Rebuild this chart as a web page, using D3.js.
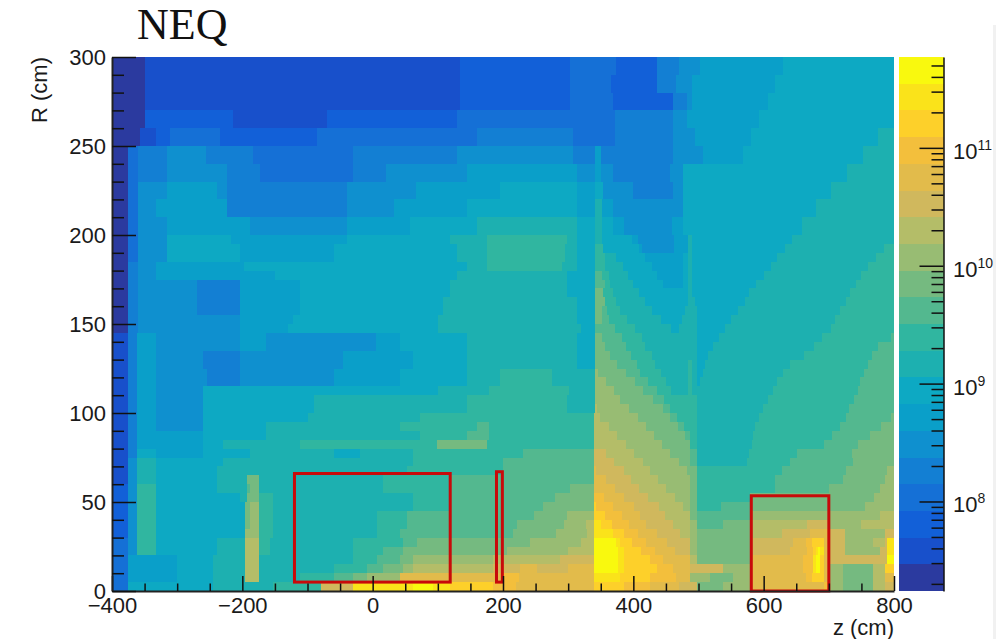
<!DOCTYPE html>
<html>
<head>
<meta charset="utf-8">
<title>NEQ</title>
<script src="https://cdn.jsdelivr.net/npm/d3@7"></script>
<style>
  body { margin: 0; background: #fff; }
  text { font-family: "Liberation Sans", Arial, sans-serif; fill: #1a1a1a; }
</style>
</head>
<body>
<div id="chart"></div>
<script>
// Contour levels of the colour bar, bottom to top
const bandColors = ["#2b3a9f", "#1850cb", "#1260d8", "#1570d6", "#137fd3", "#0f90cf", "#0a9fc9", "#0da9c3",
    "#1db0b0", "#30b6a0", "#53b88f", "#75ba80", "#98bc73", "#b4bd68", "#d0b85d", "#e2bb4b",
    "#f3bf3c", "#fdd02a", "#fae31a", "#f9f90e"];
const fluxMin = 1.74e7;
const fluxMax = 5.9e11;

// Upper and lower R edge of each row of fluxRows
const rEdges = [300, 290, 280, 270, 260, 250, 240, 230, 220, 210, 200,
    195, 190, 185, 180, 175, 170, 165, 160, 155, 150, 145, 140, 135, 130, 125, 120, 115, 110, 105,
    100, 95, 90, 85, 80, 75, 70, 65, 60, 55, 50, 45, 40, 35, 30, 25, 20, 15, 10, 5, 0];

// Each row, top to bottom: level, z where that level ends, level, z where it ends ...
const fluxRows = [
    [0,-350,1,134,2,303,3,374,2,436,4,470,5,502,6,630,7,800],
    [0,-350,1,134,2,303,3,365,2,436,4,465,5,490,6,618,7,800],
    [0,-350,1,134,2,303,3,369,2,461,4,482,5,490,6,606,7,800],
    [0,-350,2,-214,1,-70,2,130,3,372,4,461,5,482,6,593,7,800],
    [0,-357,1,-332,2,-311,3,-234,2,-86,3,160,4,308,3,372,4,461,5,495,6,581,7,776,8,800],
    [0,-375,3,-360,4,-316,5,-255,4,-183,3,-30,4,130,5,308,4,341,6,350,4,461,5,507,6,569,7,752,8,800],
    [0,-375,3,-360,4,-316,5,-224,4,-173,3,-30,4,20,5,144,6,313,5,341,6,350,5,369,4,456,5,476,7,728,8,800],
    [0,-375,3,-360,5,-316,6,-239,5,-224,4,-40,5,67,6,195,7,313,6,341,7,354,5,400,4,461,5,476,7,704,8,800],
    [0,-375,3,-360,5,-332,6,-224,4,-40,5,32,6,144,7,313,6,341,8,352,6,369,5,476,7,681,8,800],
    [0,-375,3,-360,5,-316,6,-188,5,-40,6,57,7,160,8,313,7,341,8,352,7,369,6,385,5,460,6,476,7,659,8,800],
    [0,-375,3,-360,5,-316,7,-217,6,-40,7,118,8,175,9,298,8,313,7,341,8,352,7,398,6,407,5,462,6,484,8,490,7,643,8,800],
    [0,-375,3,-360,5,-316,7,-204,6,-60,7,130,8,175,9,295,8,313,7,341,9,354,7,408,6,413,5,462,6,484,8,490,7,632,8,785,9,800],
    [0,-375,3,-360,5,-316,7,-204,6,-60,7,130,8,175,9,295,8,313,7,341,9,356,8,374,7,418,6,476,7,484,8,490,7,621,8,772,9,800],
    [0,-375,4,-360,5,-332,6,-198,7,144,8,175,9,290,8,313,7,341,9,356,8,384,7,428,6,476,7,484,8,490,7,611,8,760,9,800],
    [0,-375,4,-360,5,-332,6,-150,7,130,8,298,7,341,10,352,9,362,8,392,7,437,6,476,7,484,8,490,7,600,8,750,9,800],
    [0,-375,4,-360,5,-270,4,-204,6,-112,7,119,8,298,7,341,10,356,9,364,8,400,7,446,6,476,7,484,8,490,7,589,8,741,9,800],
    [0,-375,4,-360,5,-270,4,-204,6,-112,7,119,8,298,7,341,11,354,9,369,8,408,7,484,8,490,7,578,8,733,9,800],
    [0,-375,4,-360,5,-270,4,-204,6,-112,7,108,8,313,7,341,11,356,9,374,8,418,7,484,8,495,7,572,8,726,9,800],
    [0,-375,4,-360,5,-270,4,-204,6,-112,7,108,8,313,7,341,11,352,10,359,9,380,8,428,7,479,8,497,7,561,8,717,9,800],
    [0,-375,4,-360,5,-204,6,-122,7,100,8,313,7,341,11,352,10,362,9,390,8,442,7,475,8,497,7,550,8,710,9,800],
    [0,-375,4,-360,5,-204,6,-130,7,100,8,320,7,341,10,372,9,402,8,458,7,470,8,497,7,540,8,704,9,800],
    [1,-375,4,-362,6,-332,5,-204,6,-163,5,5,6,42,7,144,8,313,7,341,11,352,10,383,9,414,8,497,7,531,8,690,9,795,10,800],
    [1,-375,4,-362,6,-332,5,-204,6,-163,5,5,6,42,7,144,8,313,7,341,11,356,10,389,9,418,8,497,7,522,8,678,9,775,10,800],
    [1,-375,4,-362,6,-332,5,-260,4,-204,5,-45,6,62,7,144,8,313,7,341,11,364,10,396,9,428,8,497,7,514,8,662,9,767,10,800],
    [1,-375,4,-362,6,-332,5,-260,4,-204,5,-45,6,62,7,144,8,313,7,341,11,375,10,405,9,433,8,484,9,490,8,497,7,510,8,641,9,760,10,800],
    [1,-375,4,-362,6,-332,5,-254,4,-204,5,-60,6,42,7,144,8,195,9,275,8,341,12,346,11,388,10,410,9,442,8,484,9,490,8,497,7,507,8,629,9,754,10,800],
    [1,-375,4,-362,6,-332,5,-254,4,-204,5,-60,6,42,7,144,8,195,9,275,8,341,12,358,11,402,10,423,9,450,8,484,9,490,8,497,7,503,8,621,9,748,10,800],
    [1,-375,4,-362,6,-332,5,-260,7,100,8,178,9,302,8,341,12,370,11,415,10,436,9,458,8,484,9,490,8,614,9,744,10,800],
    [1,-375,4,-362,6,-332,5,-260,7,-90,8,144,9,298,8,341,12,380,11,430,10,447,9,497,8,606,9,738,10,800],
    [1,-375,4,-362,6,-332,5,-260,7,-90,8,144,9,298,8,341,13,344,12,393,11,445,10,457,9,497,8,599,9,731,10,800],
    [1,-375,4,-362,6,-332,5,-260,7,-100,8,72,9,339,13,349,12,407,11,456,10,467,9,497,8,593,9,726,10,795,11,800],
    [1,-375,4,-362,6,-332,5,-260,7,-163,8,42,9,160,10,178,9,339,13,362,12,419,11,468,10,478,9,497,8,587,9,717,10,780,11,800],
    [1,-375,4,-362,6,-332,6,-260,7,-163,8,72,9,144,10,178,9,339,13,375,12,432,11,480,10,487,9,497,8,584,9,705,10,763,11,800],
    [1,-375,4,-362,6,-332,6,-260,7,-229,8,-112,9,98,11,175,9,339,13,388,12,444,11,487,9,497,8,582,9,692,10,745,11,800],
    [1,-375,4,-362,7,-332,6,-260,7,-188,8,-60,7,-20,8,62,9,230,10,339,14,358,13,401,12,457,11,487,10,497,8,578,9,651,10,735,11,800],
    [1,-375,5,-362,8,-332,7,-229,8,62,9,200,10,339,14,371,13,415,12,470,11,487,10,497,8,574,9,640,10,737,11,800],
    [1,-375,5,-362,8,-332,7,-239,8,52,9,200,10,339,15,343,14,385,13,425,12,483,11,497,9,628,10,727,11,790,12,800],
    [1,-375,5,-362,8,-332,7,-239,8,-193,11,-175,8,16,9,119,10,339,15,358,14,397,13,438,12,487,11,497,9,617,10,722,11,786,12,800],
    [2,-375,5,-362,9,-332,7,-239,8,-193,10,-188,11,-175,8,16,9,119,10,303,11,339,15,372,14,409,13,450,12,487,11,497,9,617,10,700,11,778,12,800],
    [2,-375,5,-362,9,-332,7,-204,8,-193,11,-175,9,-153,8,62,9,119,10,280,11,339,16,355,15,385,14,423,13,464,12,487,11,497,9,579,11,770,12,800],
    [2,-375,5,-362,9,-332,7,-196,11,-188,12,-175,9,-153,8,62,9,119,10,262,11,339,17,343,16,369,15,401,14,439,13,476,12,487,11,497,9,535,10,579,11,756,12,800],
    [2,-375,5,-362,9,-332,7,-196,11,-188,12,-175,9,-153,8,6,9,52,10,247,11,298,12,339,17,357,16,382,15,410,14,449,13,487,11,497,10,579,12,778,13,800],
    [2,-375,5,-362,9,-332,7,-196,11,-188,12,-175,9,-153,8,6,9,52,10,221,11,293,12,328,13,339,18,350,17,368,16,394,15,420,14,461,13,487,12,497,10,538,11,579,13,666,14,702,12,750,13,800],
    [2,-375,5,-362,9,-332,7,-196,12,-175,9,-153,8,6,9,42,10,216,11,282,12,329,13,339,18,369,17,386,16,407,15,437,14,472,13,487,12,497,11,579,13,628,14,671,15,702,14,725,12,786,14,800],
    [3,-375,5,-362,9,-332,7,-239,8,-196,13,-175,9,-158,8,-30,9,47,10,68,11,241,12,320,13,339,19,374,18,380,17,398,16,420,15,451,14,487,12,497,11,579,14,645,15,665,16,674,17,692,15,702,14,725,12,768,13,786,14,790,18,800],
    [3,-375,5,-362,9,-332,7,-239,8,-196,13,-175,9,-158,8,-30,9,16,10,47,11,206,12,300,13,339,19,377,18,385,17,412,16,433,15,464,14,487,12,497,11,579,14,640,15,666,16,676,17,681,18,684,19,687,18,692,15,702,14,725,12,778,14,790,18,800],
    [3,-375,6,-301,7,-245,8,-196,13,-175,8,-30,9,6,10,42,11,62,12,185,13,287,14,339,19,377,18,385,17,425,16,446,15,487,13,497,11,579,15,660,16,676,18,681,19,687,17,692,15,702,14,790,19,800],
    [3,-375,6,-301,7,-245,8,-196,13,-175,8,-60,9,-9,10,16,11,47,12,62,13,185,14,226,15,252,14,300,15,339,19,377,18,385,17,436,16,461,15,487,14,538,12,579,15,660,16,676,18,681,19,687,17,692,15,702,12,722,11,768,13,786,17,800],
    [3,-375,6,-301,7,-245,8,-196,13,-175,8,-112,9,-60,10,-30,11,-9,12,42,15,200,16,225,15,339,18,380,17,425,16,466,15,487,12,518,11,553,12,579,15,665,16,674,17,692,15,702,12,722,11,768,13,786,15,800],
    [3,-375,7,-245,8,-153,9,-80,14,-30,18,62,19,93,18,119,17,185,16,220,15,339,17,385,16,425,15,470,14,497,11,538,12,579,15,692,16,702,12,722,11,768,13,786,14,800]
];

// Red boxes: z from, z to, R from, R to
const boxZ0 = [-120, 190, 581];
const boxZ1 = [119, 199, 700];
const boxR0 = [5, 5, 0];
const boxR1 = [66, 67, 53.5];

const zTicks = [-400, -200, 0, 200, 400, 600, 800];
const rTicks = [0, 50, 100, 150, 200, 250, 300];
const decades = [8, 9, 10, 11];

const width = 996;
const height = 639;

const svg = d3.select("#chart").append("svg")
    .attr("width", width)
    .attr("height", height)
    .style("display", "block");

// Scales for the plot and the colour bar
const x = d3.scaleLinear().domain([-400, 800]).range([112, 894]);
const y = d3.scaleLinear().domain([0, 300]).range([591, 57]);
const flux = d3.scaleLog().domain([fluxMin, fluxMax]).range([591, 57]);

// Screenshot edge on the right
svg.append("rect").attr("x", 993).attr("y", 25).attr("width", 3).attr("height", 614).attr("fill", "#f1f1f1");

// Heat map cells
const cells = [];
fluxRows.forEach((row, i) => {
    let z0 = -400;
    for (let k = 0; k < row.length; k += 2) {
        cells.push({ level: row[k], z0: z0, z1: row[k + 1], r0: rEdges[i + 1], r1: rEdges[i] });
        z0 = row[k + 1];
    }
});

svg.append("g")
    .attr("shape-rendering", "crispEdges")
    .selectAll("rect")
    .data(cells)
    .join("rect")
    .attr("x", d => x(d.z0))
    .attr("y", d => y(d.r1))
    .attr("width", d => x(d.z1) - x(d.z0))
    .attr("height", d => y(d.r0) - y(d.r1))
    .attr("fill", d => bandColors[d.level]);

// Red boxes
svg.append("g")
    .selectAll("rect")
    .data(boxZ0)
    .join("rect")
    .attr("x", d => x(d))
    .attr("y", (d, i) => y(boxR1[i]))
    .attr("width", (d, i) => x(boxZ1[i]) - x(d))
    .attr("height", (d, i) => y(boxR0[i]) - y(boxR1[i]))
    .attr("fill", "none")
    .attr("stroke", "#c80a0a")
    .attr("stroke-width", 3);

// Axes: ticks point into the plot, long ones on the labelled values
function styleAxis(g, longTick, isLong, horizontal) {
    g.select(".domain").attr("stroke", "#222").attr("stroke-width", 2);
    g.selectAll(".tick line")
        .attr("stroke", "#111")
        .attr("stroke-width", 1.5)
        .each(function(d) {
            if (isLong(d)) {
                d3.select(this).attr(horizontal ? "y2" : "x2", horizontal ? -longTick : longTick);
            }
        });
    g.selectAll(".tick text").style("font-size", "22px").attr("fill", "#1a1a1a");
}

const xAxis = d3.axisBottom(x)
    .tickValues(d3.range(-400, 801, 50))
    .tickSize(-7.5)
    .tickSizeOuter(0)
    .tickPadding(6)
    .tickFormat(d => zTicks.includes(d) ? d3.format("d")(d) : "");

svg.append("g")
    .attr("transform", "translate(0,591)")
    .call(xAxis)
    .call(g => styleAxis(g, 15, d => zTicks.includes(d), true));

const yAxis = d3.axisLeft(y)
    .tickValues(d3.range(0, 301, 10))
    .tickSize(-12)
    .tickSizeOuter(0)
    .tickPadding(6)
    .tickFormat(d => rTicks.includes(d) ? d : "");

svg.append("g")
    .attr("transform", "translate(112,0)")
    .call(yAxis)
    .call(g => styleAxis(g, 24, d => rTicks.includes(d), false));

// Colour bar
const bandStep = Math.log10(fluxMax / fluxMin) / bandColors.length;
svg.append("g")
    .attr("shape-rendering", "crispEdges")
    .selectAll("rect")
    .data(bandColors)
    .join("rect")
    .attr("x", 899)
    .attr("width", 45)
    .attr("y", (d, i) => flux(fluxMin * Math.pow(10, (i + 1) * bandStep)))
    .attr("height", (d, i) => flux(fluxMin * Math.pow(10, i * bandStep)) - flux(fluxMin * Math.pow(10, (i + 1) * bandStep)))
    .attr("fill", d => d);

const fluxTicks = [];
for (let e = 7; e <= 11; e++) {
    for (let m = 1; m <= 9; m++) {
        const v = m * Math.pow(10, e);
        if (v >= fluxMin && v <= fluxMax) fluxTicks.push(v);
    }
}

const fluxAxis = d3.axisRight(flux)
    .tickValues(fluxTicks)
    .tickSize(-12)
    .tickSizeOuter(0)
    .tickFormat("");

svg.append("g")
    .attr("transform", "translate(943.5,0)")
    .call(fluxAxis)
    .call(g => {
        g.select(".domain").attr("stroke", "#111").attr("stroke-width", 1.5);
        g.selectAll(".tick line")
            .attr("stroke", "#111")
            .attr("stroke-width", 1.5)
            .attr("x2", d => Math.abs(Math.log10(d) % 1) < 1e-6 ? -24 : -12);
    });

const decadeLabels = svg.append("g")
    .selectAll("text")
    .data(decades)
    .join("text")
    .attr("x", 953)
    .attr("y", d => flux(Math.pow(10, d)) + 11)
    .style("font-size", "22px");

decadeLabels.append("tspan").text("10");
decadeLabels.append("tspan")
    .attr("dy", -9)
    .style("font-size", "14px")
    .text(d => d);

// Titles
svg.append("text")
    .attr("x", 137)
    .attr("y", 39)
    .style("font-family", '"Liberation Serif", "Times New Roman", serif')
    .style("font-size", "44px")
    .style("fill", "#111")
    .text("NEQ");

svg.append("text")
    .attr("transform", "translate(47,123) rotate(-90)")
    .style("font-size", "22px")
    .text("R (cm)");

svg.append("text")
    .attr("x", 894)
    .attr("y", 635)
    .attr("text-anchor", "end")
    .style("font-size", "22px")
    .text("z (cm)");
</script>
</body>
</html>
